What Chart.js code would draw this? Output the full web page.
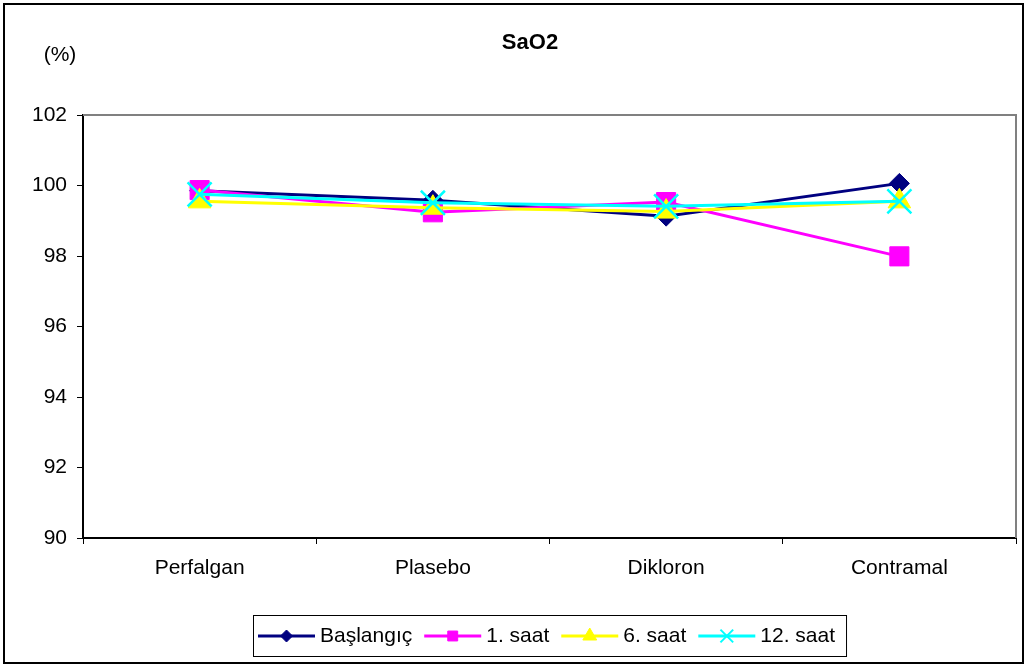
<!DOCTYPE html>
<html>
<head>
<meta charset="utf-8">
<script src="https://cdn.jsdelivr.net/npm/chart.js@4/dist/chart.umd.min.js"></script>
<style>
  html, body { margin: 0; padding: 0; background: #fff; overflow: hidden; }
  #wrap { width: 1027px; height: 666px; position: relative; }
  #chart { display: block; }
</style>
</head>
<body>
<div id="wrap"><canvas id="chart"></canvas></div>
<script>
const categories = ['Perfalgan', 'Plasebo', 'Dikloron', 'Contramal']
const baslangic = [99.85, 99.58, 99.13, 100.06]
const saat1 = [99.87, 99.24, 99.53, 97.99]
const saat6 = [99.55, 99.37, 99.26, 99.55]
const saat12 = [99.75, 99.51, 99.41, 99.55]
const yTicks = [90, 92, 94, 96, 98, 100, 102]

const FONT = '"Liberation Sans", Arial, sans-serif'

// marker sizes for the legend (smaller than in the plot)
const legendMarks = [
  { pointStyle: 'rectRot', radius: 6, borderWidth: 1 },
  { pointStyle: 'rect', radius: 7, borderWidth: 1 },
  { pointStyle: 'triangle', radius: 8, borderWidth: 1 },
  { pointStyle: 'crossRot', radius: 9, borderWidth: 2 },
]

function series(label, data, color, style, radius, bw, order) {
  return {
    label,
    data,
    borderColor: color,
    backgroundColor: color,
    borderWidth: 3,
    pointStyle: style,
    pointRadius: radius,
    pointHoverRadius: radius,
    pointBorderWidth: bw,
    pointBackgroundColor: color,
    pointBorderColor: color,
    tension: 0,
    order,
  }
}

const framePlugin = {
  id: 'frame',
  beforeDatasetsDraw(chart) {
    const { ctx, chartArea: a } = chart
    ctx.save()
    ctx.strokeStyle = '#808080'
    ctx.lineWidth = 2
    ctx.beginPath()
    ctx.moveTo(a.left, a.top)
    ctx.lineTo(a.right, a.top)
    ctx.lineTo(a.right, a.bottom)
    ctx.stroke()
    ctx.restore()
  },
  afterDraw(chart) {
    const { ctx, chartArea: a } = chart
    ctx.save()
    // outer border
    ctx.strokeStyle = '#000'
    ctx.lineWidth = 2
    ctx.strokeRect(4, 4, 1019, 659)

    // title and unit
    ctx.fillStyle = '#000'
    ctx.textAlign = 'center'
    ctx.textBaseline = 'middle'
    ctx.font = 'bold 22px ' + FONT
    ctx.fillText('SaO2', 530, 43)
    ctx.font = '21px ' + FONT
    ctx.fillText('(%)', 60, 55)

    // legend: line sample with marker, then label
    const lineLen = 57, gapText = 5, gapItem = 12, padL = 5, padR = 11
    ctx.font = '21px ' + FONT
    const sets = chart.data.datasets
    const widths = sets.map((d) => lineLen + gapText + ctx.measureText(d.label).width)
    const total = padL + padR + widths.reduce((s, w) => s + w, 0) + gapItem * (sets.length - 1)
    const cx = (a.left + a.right) / 2
    const left = Math.round(cx - total / 2)
    const top = 615, h = 41
    ctx.strokeStyle = '#000'
    ctx.lineWidth = 1
    ctx.strokeRect(left + 0.5, top + 0.5, total, h)
    const cy = top + h / 2 + 0.5
    let x = left + padL
    sets.forEach((d, i) => {
      ctx.strokeStyle = d.borderColor
      ctx.fillStyle = d.borderColor
      ctx.lineWidth = 3
      ctx.beginPath()
      ctx.moveTo(x, cy)
      ctx.lineTo(x + lineLen, cy)
      ctx.stroke()
      const m = legendMarks[i]
      ctx.lineWidth = m.borderWidth
      Chart.helpers.drawPoint(ctx, { ...m, rotation: 0 }, x + lineLen / 2, cy)
      ctx.fillStyle = '#000'
      ctx.textAlign = 'left'
      ctx.textBaseline = 'middle'
      ctx.fillText(d.label, x + lineLen + gapText, cy)
      x += widths[i] + gapItem
    })
    ctx.restore()
  },
}

new Chart(document.getElementById('chart'), {
  type: 'line',
  data: {
    labels: categories,
    datasets: [
      series('Başlangıç', baslangic, '#000080', 'rectRot', 10, 1, 3),
      series('1. saat', saat1, '#FF00FF', 'rect', 13.5, 1, 2),
      series('6. saat', saat6, '#FFFF00', 'triangle', 13, 1, 1),
      series('12. saat', saat12, '#00FFFF', 'crossRot', 17, 2.5, 0),
    ],
  },
  options: {
    responsive: true,
    maintainAspectRatio: false,
    animation: false,
    layout: { autoPadding: false, padding: { top: 115, right: 11, bottom: 0, left: 0 } },
    plugins: {
      legend: { display: false },
      title: { display: false },
      tooltip: { enabled: false },
    },
    scales: {
      x: {
        offset: true,
        afterFit: (s) => {
          s.height = 128
          s.paddingLeft = 0
          s.paddingRight = 0
        },
        grid: {
          offset: true,
          drawOnChartArea: false,
          tickLength: 6,
          tickColor: '#000',
          tickWidth: 1,
        },
        border: { color: '#000', width: 2 },
        ticks: { color: '#000', padding: 12, font: { family: FONT, size: 21 } },
      },
      y: {
        min: 90,
        max: 102,
        afterFit: (s) => { s.width = 83 },
        afterBuildTicks: (s) => { s.ticks = yTicks.map((v) => ({ value: v })) },
        grid: {
          drawOnChartArea: false,
          tickLength: 6,
          tickColor: '#000',
          tickWidth: 1,
        },
        border: { color: '#000', width: 2 },
        ticks: { color: '#000', padding: 10, font: { family: FONT, size: 21 } },
      },
    },
  },
  plugins: [framePlugin],
})
</script>
</body>
</html>
